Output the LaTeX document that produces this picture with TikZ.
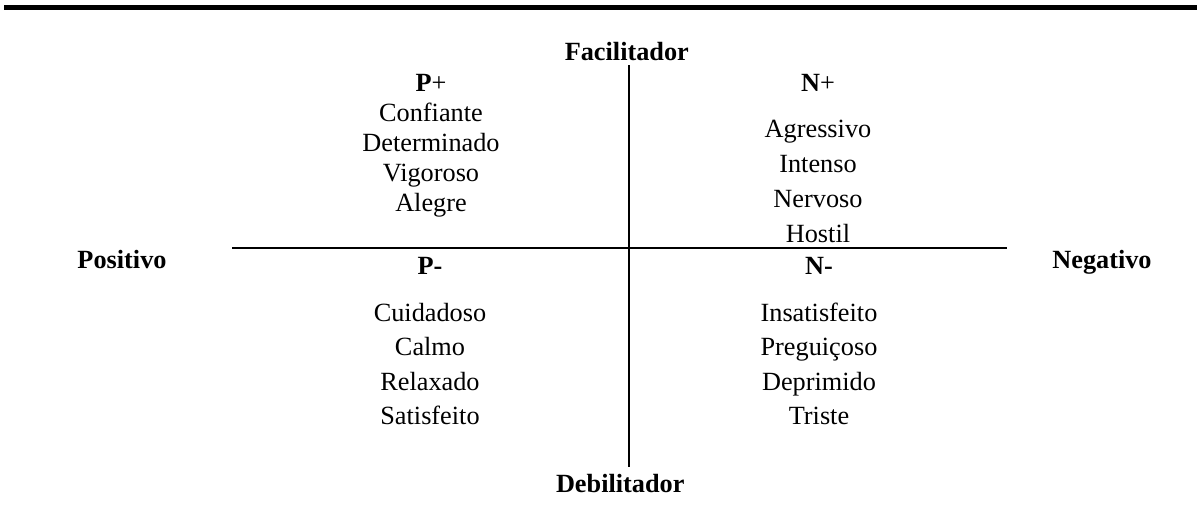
\documentclass[tikz,border=0pt]{standalone}
\usepackage{fontspec}
\setmainfont{Liberation Serif}
\usepackage{tikz}
\usetikzlibrary{positioning}
\tikzset{
    axisline/.style={
        line width=1pt
    },
    toprule/.style={
        line width=2.3pt
    },
    poletext/.style={
        font=\fontsize{12}{14}\selectfont\bfseries,
        inner sep=0pt
    },
    quadrant/.style={
        align=center,
        anchor=north,
        inner sep=0pt
    }
}

\begin{document}
\begin{tikzpicture}[x=0.01605cm, y=-0.01605cm]
        \useasboundingbox (0,0) rectangle (1197,526);

        % rule over the figure
        \coordinate (ruleL) at (4,7.5);
        \coordinate (ruleR) at (1197,7.5);
        \draw[toprule] (ruleL) -- (ruleR);

        % axes
        \coordinate (vtop) at (629,65);
        \coordinate (vbot) at (629,467);
        \coordinate (hleft) at (232,248);
        \coordinate (hright) at (1007,248);
        \draw[axisline] (vtop) -- (vbot);
        \draw[axisline] (hleft) -- (hright);

        % poles
        \node[poletext, above=1.8pt of vtop, xshift=-1pt] (facil) {Facilitador};
        \node[poletext, below=3.2pt of vbot, xshift=-4pt] (debil) {Debilitador};
        \node[poletext, anchor=base] (posit) at (122,268.5) {Positivo};
        \node[poletext, anchor=base] (negat) at (1102,268.5) {Negativo};

        % quadrants
        \node[quadrant, font=\fontsize{12}{13.7}\selectfont] (pplus) at (431,74) {
            \textbf{P}+\\
            Confiante\\
            Determinado\\
            Vigoroso\\
            Alegre
        };

        \node[quadrant, font=\fontsize{12}{16}\selectfont] (nplus) at (818,74) {
            \textbf{N}+\\[4.8pt]
            Agressivo\\
            Intenso\\
            Nervoso\\
            Hostil
        };

        \node[quadrant, font=\fontsize{12}{15.8}\selectfont] (pminus) at (430,256.5) {
            \textbf{P-}\\[5.6pt]
            Cuidadoso\\
            Calmo\\
            Relaxado\\
            Satisfeito
        };

        \node[quadrant, font=\fontsize{12}{15.8}\selectfont] (nminus) at (819,256.5) {
            \textbf{N-}\\[5.6pt]
            Insatisfeito\\
            Preguiçoso\\
            Deprimido\\
            Triste
        };
    \end{tikzpicture}
\end{document}
